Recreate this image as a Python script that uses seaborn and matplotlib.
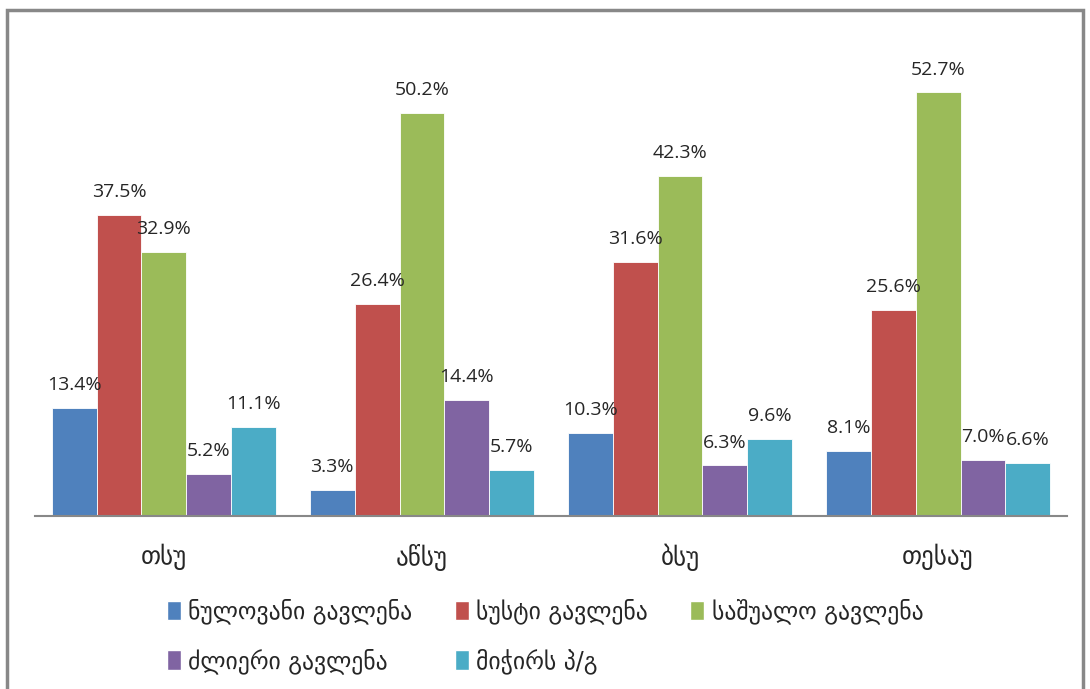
import seaborn as sns
import matplotlib.pyplot as plt
import pandas as pd
from matplotlib.patches import Rectangle, Patch

universities = ["თსუ", "აწსუ", "ბსუ", "თესაუ"]
answers = ["ნულოვანი გავლენა", "სუსტი გავლენა", "საშუალო გავლენა",
           "ძლიერი გავლენა", "მიჭირს პ/გ"]
zero_impact = [13.4, 3.3, 10.3, 8.1]
weak_impact = [37.5, 26.4, 31.6, 25.6]
medium_impact = [32.9, 50.2, 42.3, 52.7]
strong_impact = [5.2, 14.4, 6.3, 7.0]
hard_to_say = [11.1, 5.7, 9.6, 6.6]
colors = ["#4F81BD", "#C0504D", "#9BBB59", "#8064A2", "#4BACC6"]

series = [zero_impact, weak_impact, medium_impact, strong_impact, hard_to_say]
rows = []
for ans, vals in zip(answers, series):
    for uni, v in zip(universities, vals):
        rows.append({"uni": uni, "answer": ans, "value": v})
df = pd.DataFrame(rows)

sns.set_style("white")
plt.rcParams["font.family"] = ["DejaVu Sans"]

fig = plt.figure(figsize=(10.9, 6.89), dpi=100)
ax = fig.add_axes([0.032, 0.251, 0.947, 0.70])

sns.barplot(data=df, x="uni", y="value", hue="answer", hue_order=answers,
            order=universities, palette=colors, width=0.87, saturation=1,
            linewidth=0.6, edgecolor="white", legend=False, ax=ax)

for cont in ax.containers:
    ax.bar_label(cont, fmt="%.1f%%", padding=10, fontsize=14,
                 family=["Open Sans", "DejaVu Sans"])

ax.set_ylim(0, 60)
ax.set_xlim(-0.5, 3.5)
ax.set_xlabel("")
ax.set_ylabel("")
ax.set_yticks([])
ax.tick_params(axis="x", length=0, labelsize=18, pad=20)
for s in ["top", "left", "right"]:
    ax.spines[s].set_visible(False)
ax.spines["bottom"].set_color("#888888")
ax.spines["bottom"].set_linewidth(1.5)

# legend fills column by column, so reorder to get row-wise layout
handles = [Patch(facecolor=c, label=a) for c, a in zip(colors, answers)]
order = [0, 3, 1, 4, 2]
fig.legend(handles=[handles[i] for i in order], loc="upper center",
           bbox_to_anchor=(0.5, 0.162), ncol=3, frameon=False, fontsize=17,
           handlelength=0.6, handleheight=0.9, handletextpad=0.3,
           columnspacing=1.8, labelspacing=1.0)

fig.patches.append(Rectangle((7 / 1090, -0.05), 1076 / 1090, 1 - 10 / 689 + 0.05,
                             transform=fig.transFigure, fill=False,
                             edgecolor="#888888", linewidth=2.5))

fig.savefig("out.png", dpi=100)
